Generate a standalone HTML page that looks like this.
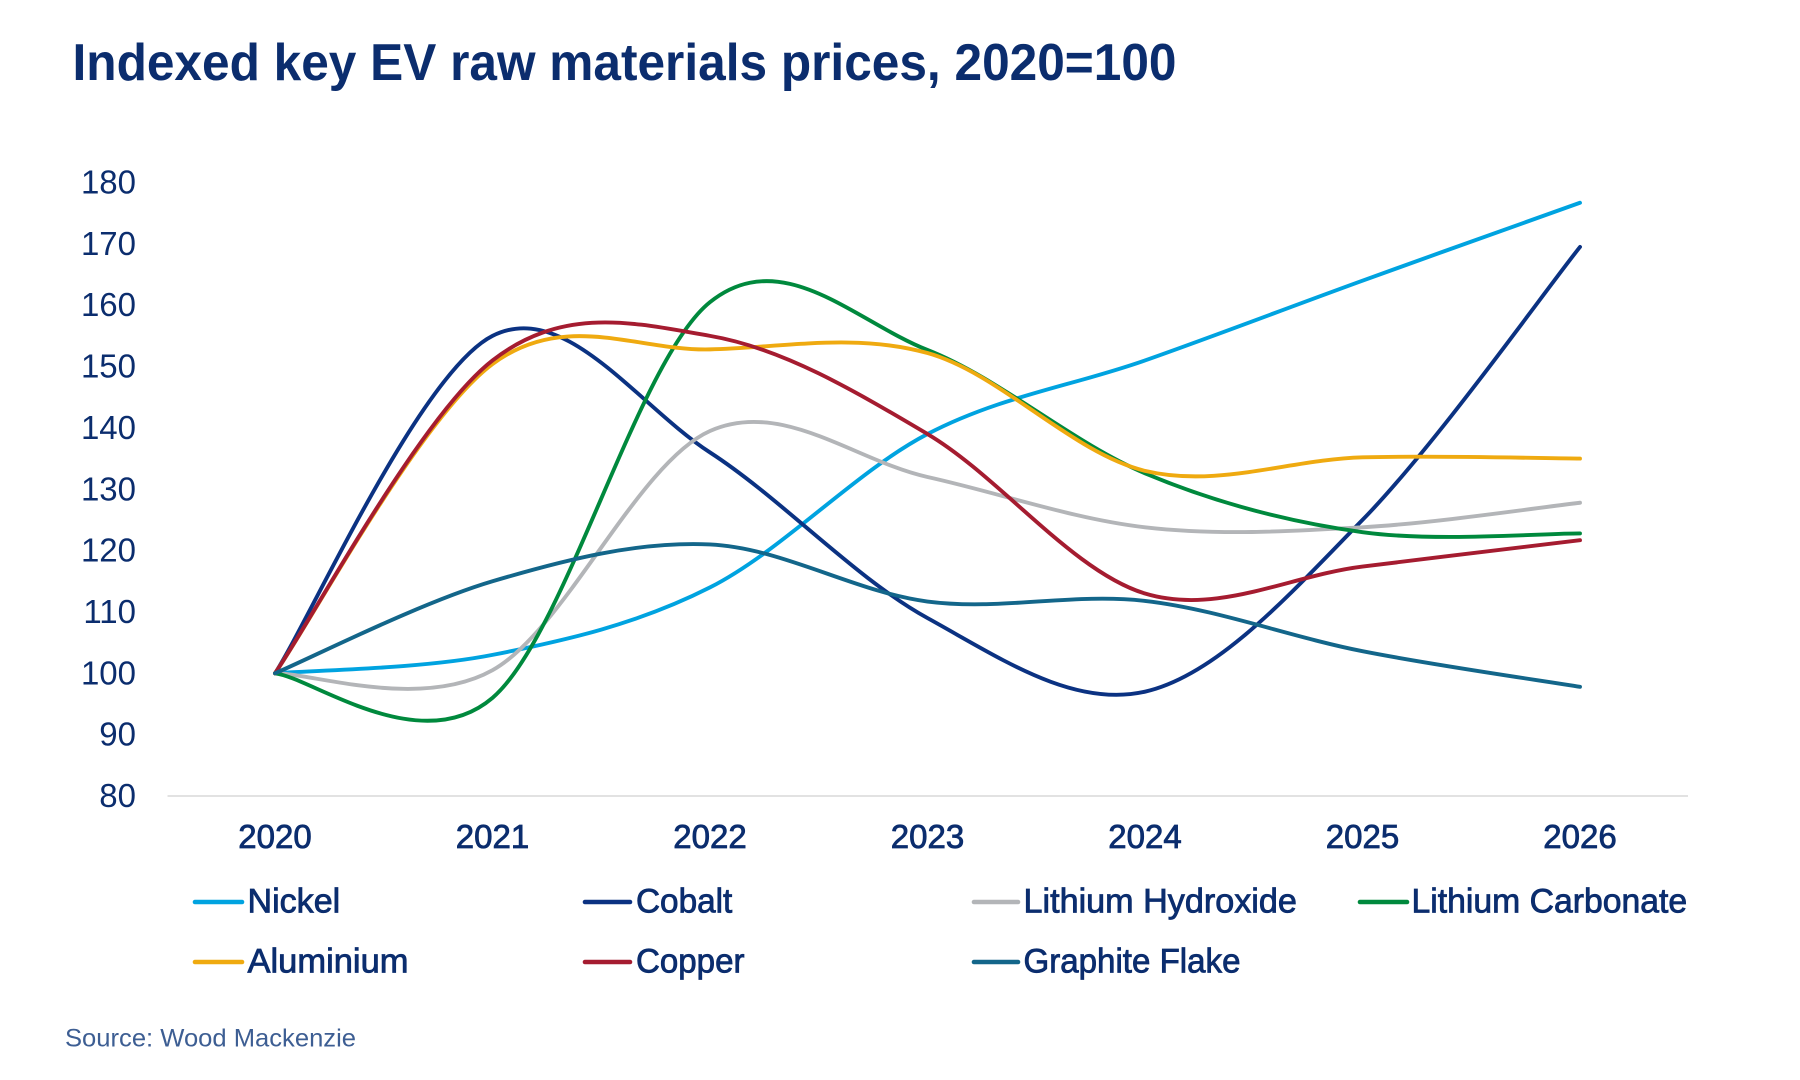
<!DOCTYPE html>
<html>
<head>
<meta charset="utf-8">
<style>
  html, body { margin: 0; padding: 0; background: #ffffff; }
  body { width: 1800px; height: 1080px; overflow: hidden; }
  svg { display: block; }
  .t { font-family: "Liberation Sans", Arial, sans-serif; fill: #0b2d6e; }
  .med { stroke: #0b2d6e; stroke-width: 0.8; paint-order: stroke; }
  .s { fill: none; stroke-width: 3.9; stroke-linecap: round; stroke-linejoin: round; }
</style>
</head>
<body>
<svg width="1800" height="1080" viewBox="0 0 1800 1080" xmlns="http://www.w3.org/2000/svg">
  <rect x="0" y="0" width="1800" height="1080" fill="#ffffff"/>

  <!-- Title -->
  <text class="t" x="72.5" y="80" font-size="52" font-weight="bold" textLength="1104" lengthAdjust="spacingAndGlyphs">Indexed key EV raw materials prices, 2020=100</text>

  <!-- Y axis labels -->
  <g class="t" font-size="33" text-anchor="end">
    <text x="136" y="193.5">180</text>
    <text x="136" y="254.9">170</text>
    <text x="136" y="316.2">160</text>
    <text x="136" y="377.6">150</text>
    <text x="136" y="438.9">140</text>
    <text x="136" y="500.3">130</text>
    <text x="136" y="561.6">120</text>
    <text x="136" y="623">110</text>
    <text x="136" y="684.3">100</text>
    <text x="136" y="745.7">90</text>
    <text x="136" y="807">80</text>
  </g>

  <!-- Baseline gridline -->
  <line x1="167.5" y1="796" x2="1688" y2="796" stroke="#d9d9d9" stroke-width="1.6"/>

  <!-- X axis labels -->
  <g class="t med" font-size="33" text-anchor="middle">
    <text x="275" y="848">2020</text>
    <text x="492.5" y="848">2021</text>
    <text x="710" y="848">2022</text>
    <text x="927.5" y="848">2023</text>
    <text x="1145" y="848">2024</text>
    <text x="1362.5" y="848">2025</text>
    <text x="1580" y="848">2026</text>
  </g>

  <!-- Series -->
  <!-- Nickel -->
  <path class="s" stroke="#00a3e0" d="M275,673.3 C311.25,670.23 420,669.21 492.5,654.89 C565,640.58 637.5,624.22 710,587.41 C782.5,550.6 855,471.87 927.5,434.03 C1000,396.2 1072.5,385.98 1145,360.41 C1217.5,334.85 1290,306.94 1362.5,280.66 C1435,254.38 1543.75,215.73 1580,202.75"/>
  <!-- Cobalt -->
  <path class="s" stroke="#0b3282" d="M275,673.3 C311.25,617.06 420,372.68 492.5,335.87 C565,299.06 637.5,405.4 710,452.44 C782.5,499.48 855,578.21 927.5,618.08 C1000,657.96 1072.5,708.07 1145,691.7 C1217.5,675.34 1290,594.05 1362.5,519.92 C1435,445.8 1543.75,292.42 1580,246.92"/>
  <!-- Lithium Hydroxide -->
  <path class="s" stroke="#b3b5b8" d="M275,673.3 C311.25,672.79 420,710.62 492.5,670.23 C565,629.84 637.5,463.18 710,430.97 C782.5,398.76 855,460.92 927.5,476.98 C1000,493.03 1072.5,518.9 1145,527.29 C1217.5,535.67 1290,531.38 1362.5,527.29 C1435,523.2 1543.75,506.84 1580,502.75"/>
  <!-- Lithium Carbonate -->
  <path class="s" stroke="#00893d" d="M275,673.3 C311.25,677.39 420,759.7 492.5,697.84 C565,635.98 637.5,360.11 710,302.13 C782.5,244.16 855,321.46 927.5,349.99 C1000,378.51 1072.5,442.93 1145,473.3 C1217.5,503.67 1290,522.18 1362.5,532.19 C1435,542.21 1543.75,533.22 1580,533.42"/>
  <!-- Aluminium -->
  <path class="s" stroke="#efaa10" d="M275,673.3 C311.25,621.77 420,418.08 492.5,364.1 C565,310.11 637.5,351.21 710,349.37 C782.5,347.53 855,332.81 927.5,353.05 C1000,373.3 1072.5,453.46 1145,470.84 C1217.5,488.23 1290,459.39 1362.5,457.35 C1435,455.3 1543.75,458.37 1580,458.57"/>
  <!-- Copper -->
  <path class="s" stroke="#a51c30" d="M275,673.3 C311.25,621.15 420,416.65 492.5,360.41 C565,304.18 637.5,323.6 710,335.87 C782.5,348.14 855,391.09 927.5,434.03 C1000,476.98 1072.5,571.46 1145,593.54 C1217.5,615.63 1290,575.45 1362.5,566.55 C1435,557.66 1543.75,544.57 1580,540.17"/>
  <!-- Graphite Flake -->
  <path class="s" stroke="#13668a" d="M275,673.3 C311.25,657.96 420,602.75 492.5,581.27 C565,559.8 637.5,541.09 710,544.46 C782.5,547.84 855,592.12 927.5,601.52 C1000,610.93 1072.5,592.63 1145,600.91 C1217.5,609.19 1290,636.9 1362.5,651.21 C1435,665.53 1543.75,680.86 1580,686.8"/>

  <!-- Legend -->
  <g stroke-width="4.6" stroke-linecap="round">
    <line x1="195" y1="902" x2="242" y2="902" stroke="#00a3e0"/>
    <line x1="585" y1="902" x2="630" y2="902" stroke="#0b3282"/>
    <line x1="974" y1="902" x2="1018" y2="902" stroke="#b3b5b8"/>
    <line x1="1360" y1="902" x2="1407" y2="902" stroke="#00893d"/>
    <line x1="195" y1="962" x2="242" y2="962" stroke="#efaa10"/>
    <line x1="585" y1="962" x2="630" y2="962" stroke="#a51c30"/>
    <line x1="974" y1="962" x2="1018" y2="962" stroke="#13668a"/>
  </g>
  <g class="t med" font-size="34">
    <text x="247.5" y="912.5" textLength="92.7" lengthAdjust="spacingAndGlyphs">Nickel</text>
    <text x="636" y="912.5" textLength="96.3" lengthAdjust="spacingAndGlyphs">Cobalt</text>
    <text x="1023.5" y="912.5" textLength="273.4" lengthAdjust="spacingAndGlyphs">Lithium Hydroxide</text>
    <text x="1411.5" y="912.5" textLength="275.6" lengthAdjust="spacingAndGlyphs">Lithium Carbonate</text>
    <text x="247.5" y="972.5" textLength="161" lengthAdjust="spacingAndGlyphs">Aluminium</text>
    <text x="636" y="972.5" textLength="108.5" lengthAdjust="spacingAndGlyphs">Copper</text>
    <text x="1023.5" y="972.5" textLength="217" lengthAdjust="spacingAndGlyphs">Graphite Flake</text>
  </g>

  <!-- Source -->
  <text x="65" y="1046.5" font-family="'Liberation Sans', Arial, sans-serif" font-size="25" fill="#3d5e93" textLength="291" lengthAdjust="spacingAndGlyphs">Source: Wood Mackenzie</text>
</svg>
</body>
</html>
